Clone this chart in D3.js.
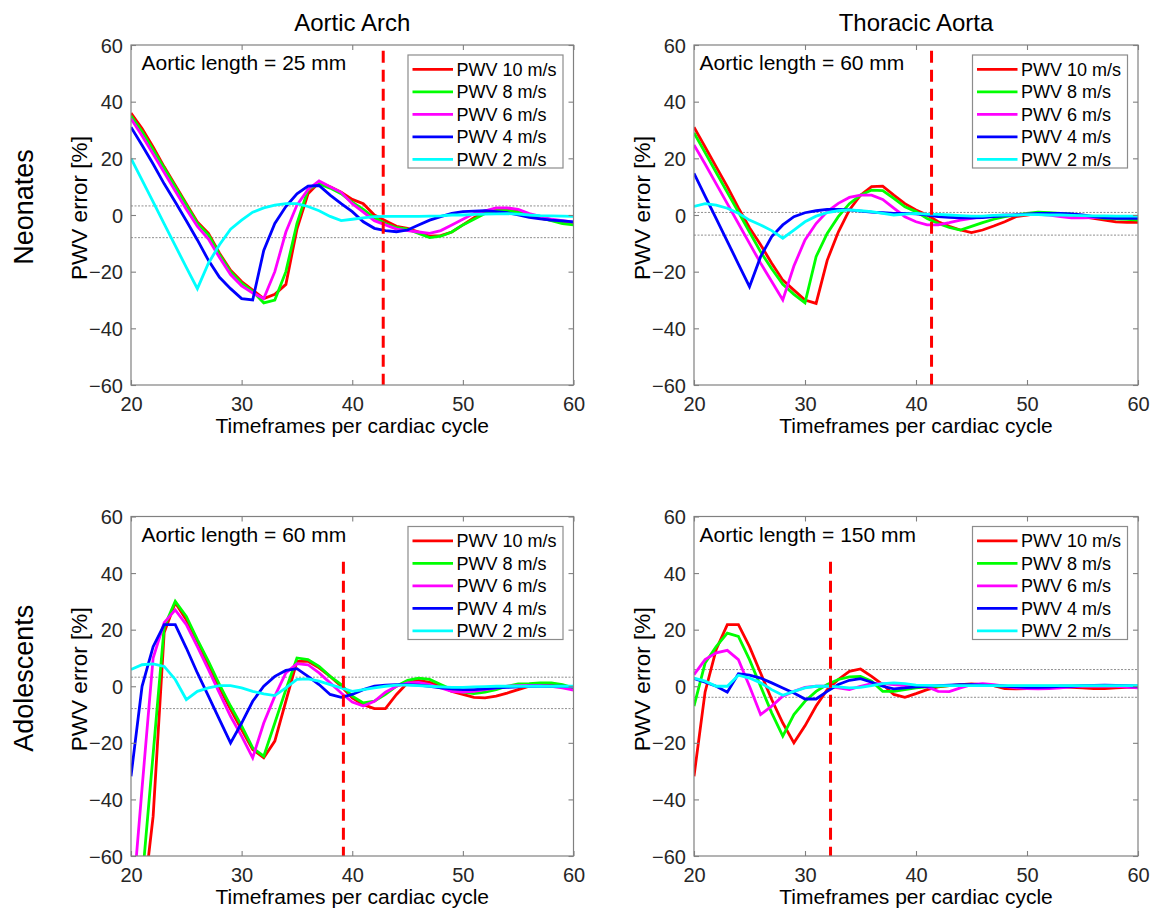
<!DOCTYPE html>
<html>
<head>
<meta charset="utf-8">
<script src="https://cdn.jsdelivr.net/npm/d3@7"></script>
<style>
  html, body { margin: 0; padding: 0; background: #fff; }
  svg { display: block; }
  text { font-family: "Liberation Sans", Arial, Helvetica, sans-serif; }
</style>
</head>
<body>
<svg id="chart" width="1153" height="917"></svg>
<script>
// ---------------- DATA ----------------
const timeframes = d3.range(20, 61); // 20..60
const seriesLabels = ["PWV 10 m/s", "PWV 8 m/s", "PWV 6 m/s", "PWV 4 m/s", "PWV 2 m/s"];
const columnTitles = ["Aortic Arch", "Thoracic Aorta"];
const rowTitles = ["Neonates", "Adolescents"];
const aorticLengths = [25, 60, 60, 150];          // mm, per panel
const cutoffTimeframes = [42.8, 41.4, 39.2, 32.3]; // red dashed vertical
const bandUpper = [3.2, 0.9, 3.2, 5.9];
const bandLower = [-8.0, -7.1, -7.9, -3.9];
const xTicks = [20, 30, 40, 50, 60];
const yTicks = [-60, -40, -20, 0, 20, 40, 60];

// Aortic Arch – Neonates (rows: 10, 8, 6, 4, 2 m/s; columns: timeframes 20..60)
const aaNeonates = [
  [36, 30.5, 24, 17, 10.5, 4, -2.5, -6.5, -13.5, -19.5, -23.5, -26.5, -29.5, -28, -24.5, -5, 7.5, 11.5, 10, 8, 5.5,
   4, 0, -2, -4, -4.7, -6, -7.5, -7.3, -6, -3.5, -1, 1, 2.3, 2.3, 1.2, 0, -1.2, -1.8, -2.4, -3],
  [35, 29.5, 23, 16.5, 10, 3.5, -3, -7, -14, -20, -24, -27, -31, -30, -20, -3, 9, 11, 9.5, 7.5, 4.5,
   2, -1, -3, -4.5, -5, -6.5, -8, -7.5, -6, -3.5, -1.5, 0.5, 1.5, 1.5, 1, 0, -1, -2, -3, -3.5],
  [34, 28, 21.5, 15, 8.5, 2, -4, -8.5, -15, -21, -25, -27.5, -29.5, -20, -6, 3.5, 9, 12, 10, 8, 4,
   1, -2, -3.5, -5, -5.5, -6, -6.5, -5.5, -3.5, -1.5, 0.5, 1.5, 2.5, 2.5, 2, 0.5, -0.5, -1.5, -2, -2.5],
  [31, 24.6, 18, 11, 4.6, -2, -8.8, -16, -22, -26, -29.5, -30, -12.5, -3, 3, 7.5, 10.2, 10.4, 7, 4, 1.2,
   -2.4, -4.7, -5.5, -5.9, -5.3, -3.5, -1.8, -0.6, 0.6, 1.2, 1.4, 1.5, 1.2, 0.8, 0, -0.8, -1.4, -1.8, -2.1, -2.4],
  [20, 12.3, 4.6, -3.1, -10.8, -18.5, -26, -17, -10.5, -5, -1.8, 1, 2.5, 3.5, 4, 4, 3, 1.5, -0.5, -2, -1.5,
   -1, -0.6, -0.5, -0.5, -0.5, -0.5, -0.4, -0.3, 0, 0, 0.2, 0.3, 0.4, 0.5, 0.3, 0, -0.2, -0.3, -0.4, -0.5]
];

// Thoracic Aorta – Neonates
const taNeonates = [
  [31, 24, 17, 10, 2.5, -4.5, -10.5, -17, -23, -26.5, -30, -31.2, -16, -6, 1.8, 7, 10, 10.2, 7, 4, 1.8,
   0, -2.4, -4, -5.3, -6.2, -5.3, -3.9, -2.4, -0.6, 0, 0.6, 0.6, 0.3, 0, -0.6, -1.2, -1.8, -2.4, -2.6, -2.6],
  [29, 22, 15, 8, 1, -6, -13, -19, -24.5, -28, -31, -14.7, -6.5, -0.6, 4, 7, 8.8, 8.6, 5.9, 2.9, 1.2,
   -1.2, -3, -4.4, -5.3, -4, -2.7, -1.5, -0.6, 0, 0.6, 1, 0.8, 0.6, 0.3, -0.2, -0.8, -1.2, -1.4, -1.5, -1.8],
  [24.7, 18, 11, 4, -3, -10, -17, -23.5, -30, -18, -8.8, -3, 1.2, 4.1, 6.2, 7, 7, 5.5, 2.4, -0.6, -2.4,
   -3.5, -3.5, -2.7, -1.8, -1.2, -0.6, -0.3, 0, 0.1, 0.3, 0.2, 0, -0.6, -1, -1, -0.9, -0.7, -0.6, -0.6, -0.6],
  [14.7, 6.7, -1.3, -9.3, -17.3, -25.3, -14.7, -7.6, -3.5, -0.6, 0.8, 1.5, 2, 2, 1.8, 1.4, 1, 0.8, 0.6, 0.6, 0.4,
   0, -0.6, -0.8, -1, -1, -0.9, -0.6, -0.3, 0, 0.3, 0.6, 0.6, 0.6, 0.4, 0, -0.6, -1, -1.2, -1.2, -1.2],
  [3, 4, 3.5, 2.4, 0.6, -1.8, -3.5, -5.5, -8.2, -5.3, -2.4, -0.4, 0.8, 1.5, 1.8, 1.5, 1.2, 0.6, 0, 0.3, 0.6,
   0.3, 0.2, 0, -0.2, -0.4, -0.4, -0.1, 0, 0, 0.1, 0.1, 0, 0, -0.1, -0.2, -0.3, -0.3, -0.4, -0.4, -0.4]
];

// Aortic Arch – Adolescents (values below -60 are clipped by the axes)
const aaAdolescents = [
  [-110, -80, -46, 19, 29.5, 23.5, 15.9, 7.6, -0.6, -8.2, -15.3, -22.4, -25.3, -19.4, -5.3, 8.8, 8.8, 6.5, 3.5, 0, -4.1,
   -6.5, -7.9, -7.9, -2.9, 1.2, 2.1, 1.4, 0, -1.8, -2.9, -3.9, -4.1, -3.5, -2.4, -1.2, 0, 0.2, 0.6, 0, -0.6],
  [-100, -69, -24, 21, 30, 24.7, 16.5, 8.8, 0.6, -7, -14, -21.8, -24.7, -13, -1.2, 10, 9.4, 7, 3.5, 0.6, -3.5,
   -5.9, -5.3, -2.9, 0, 2.1, 2.9, 2.4, 0.6, -1.2, -2.1, -2.6, -2.1, -1.2, 0, 0.8, 0.9, 1.2, 1.2, 0.6, -0.6],
  [-83, -36, 10, 22.5, 27, 21.8, 14, 5.9, -2.4, -10.6, -17.6, -25.3, -13, -3.5, 4.7, 8, 7.6, 4.7, 1.2, -2.4, -5.6,
   -7, -5.3, -2.1, 0, 1.2, 1.4, 0.6, -0.6, -1.8, -2.1, -1.8, -1.2, -0.6, 0, 0.2, 0.3, 0.2, 0, -0.6, -1.4],
  [-31.8, 0, 14, 21.8, 21.8, 13.5, 4.7, -3.5, -11.8, -20, -13, -5.3, 0, 3.5, 5.6, 6.2, 3.5, 0.6, -2.9, -3.9, -2.9,
   -1.2, 0, 0.4, 0.6, 0.6, 0.4, 0, -0.6, -0.9, -1.2, -1.2, -0.9, -0.6, -0.4, -0.2, 0, 0, 0, 0, -0.2],
  [5.9, 7.6, 7.9, 7, 2.4, -4.7, -1.8, -0.6, 0.2, 0.2, -0.6, -1.8, -2.7, -3.3, -0.6, 2.4, 2.6, 1.8, 0.6, -0.6, -1.8,
   -1.2, -0.6, 0, 0.4, 0.4, 0.2, 0, -0.2, -0.4, -0.4, -0.2, -0.1, 0, 0, 0, 0, 0, 0, 0, 0]
];

// Thoracic Aorta – Adolescents
const taAdolescents = [
  [-31.8, -2, 13, 21.8, 21.8, 14, 4.7, -4.7, -13, -20, -14, -7, -1.2, 2.4, 5.3, 6.1, 3.5, 0.6, -2.9, -3.9, -2.6,
   -1.2, -0.2, 0.2, 0.6, 0.8, 0.6, 0.2, -0.8, -0.9, -0.8, -0.6, -0.4, -0.2, -0.4, -0.6, -0.8, -0.8, -0.6, -0.4, -0.4],
  [-7, 8.2, 14, 18.8, 17.6, 9.4, 0, -9.4, -17.6, -10, -5.3, -1.8, 0.6, 2.4, 3.3, 3.5, 1.8, -1.8, -1.8, -1.2, -0.6,
   -0.2, 0, 0.2, 0.4, 0.4, 0.3, 0.2, 0, 0, 0, 0, 0, 0, 0, 0, 0, 0, 0, 0, 0],
  [4.1, 9.4, 11.8, 12.7, 9.4, 0, -10, -7, -3.5, -1.8, -0.4, 0, 0, -0.6, -1.2, 0, 0.9, 0.9, 0.6, 0.2, 0,
   -0.2, -1.8, -1.9, -0.6, 0.6, 0.9, 0.6, 0, -0.6, -0.8, -0.9, -0.8, -0.6, -0.2, 0, 0, 0, 0, -0.3, -0.6],
  [2.7, 1.4, 0, -2.1, 4.4, 3.9, 2.9, 1.2, -0.6, -2.4, -4.5, -4.5, -1.8, 0.6, 2.1, 2.7, 1.4, 0, -0.9, -0.6, -0.2,
   0, 0.2, 0.4, 0.6, 0.6, 0.4, 0.2, 0, -0.2, -0.4, -0.4, -0.3, 0, 0, 0.2, 0.3, 0.4, 0.3, 0.2, 0],
  [2.9, 1.8, 0, 0, 3.9, 2.9, 1.2, -1.2, -3.2, -1.8, -0.6, 0, 0, -0.2, -0.6, -0.4, 0.2, 0.9, 1.2, 0.9, 0.4,
   0.3, 0.2, 0.2, 0.2, 0.2, 0.2, 0.2, 0.2, 0.2, 0.2, 0.2, 0.2, 0.2, 0.2, 0.2, 0.2, 0.2, 0.2, 0.2, 0.2]
];

// ---------------- STYLE / LAYOUT ----------------
const seriesColors = ["#ff0000", "#00ff00", "#ff00ff", "#0000ff", "#00ffff"];
const panelData = [aaNeonates, taNeonates, aaAdolescents, taAdolescents];
const colX = [[131, 573.5], [694, 1138]];
const rowY = [[45, 385], [516.5, 856]];
const annotDx = [10.5, 5.5];
const FONT = '"Liberation Sans", Arial, Helvetica, sans-serif';

const svg = d3.select("#chart");
const defs = svg.append("defs");

panelData.forEach((data, p) => {
  const col = p % 2, row = Math.floor(p / 2);
  const [x0, x1] = colX[col];
  const [y0, y1] = rowY[row];
  const x = d3.scaleLinear().domain([20, 60]).range([x0, x1]);
  const y = d3.scaleLinear().domain([-60, 60]).range([y1, y0]);
  const g = svg.append("g");

  const clipId = "clip" + p;
  defs.append("clipPath").attr("id", clipId)
    .append("rect").attr("x", x0).attr("y", y0).attr("width", x1 - x0).attr("height", y1 - y0);

  g.append("rect").attr("x", x0).attr("y", y0).attr("width", x1 - x0).attr("height", y1 - y0)
    .attr("fill", "#fff");

  // gray dotted band lines
  [bandUpper[p], bandLower[p]].forEach(v => {
    g.append("line")
      .attr("x1", x0).attr("x2", x1).attr("y1", y(v)).attr("y2", y(v))
      .attr("stroke", "#8f8f8f").attr("stroke-width", 1).attr("stroke-dasharray", "2,1.5");
  });

  // series lines
  const line = d3.line().x((d, i) => x(timeframes[i])).y(d => y(d));
  const lg = g.append("g").attr("clip-path", `url(#${clipId})`);
  data.forEach((vals, s) => {
    lg.append("path").datum(vals)
      .attr("d", line)
      .attr("fill", "none")
      .attr("stroke", seriesColors[s])
      .attr("stroke-width", 2.8)
      .attr("stroke-linejoin", "miter");
  });

  // red dashed cutoff
  lg.append("line")
    .attr("x1", x(cutoffTimeframes[p])).attr("x2", x(cutoffTimeframes[p]))
    .attr("y1", y(row === 0 ? 58 : 44)).attr("y2", y(-60))
    .attr("stroke", "#ff0000").attr("stroke-width", 3).attr("stroke-dasharray", "12,7");

  // axes box with inward ticks on all sides
  const axisColor = "#808080";
  const tickLen = 5;
  const axG = g.append("g");
  axG.append("rect").attr("x", x0).attr("y", y0).attr("width", x1 - x0).attr("height", y1 - y0)
    .attr("fill", "none").attr("stroke", axisColor).attr("stroke-width", 1.2);

  const xAxisB = d3.axisBottom(x).tickValues(xTicks).tickSizeInner(-tickLen).tickSizeOuter(0).tickPadding(14);
  const xAxisT = d3.axisTop(x).tickValues(xTicks).tickSizeInner(-tickLen).tickSizeOuter(0).tickFormat("");
  const yAxisL = d3.axisLeft(y).tickValues(yTicks).tickSizeInner(-tickLen).tickSizeOuter(0).tickPadding(14);
  const yAxisR = d3.axisRight(y).tickValues(yTicks).tickSizeInner(-tickLen).tickSizeOuter(0).tickFormat("");

  function styleAxis(sel) {
    sel.select(".domain").remove();
    sel.selectAll(".tick line").attr("stroke", axisColor).attr("stroke-width", 1.1);
    sel.selectAll(".tick text").attr("fill", "#262626").style("font-size", "20px").style("font-family", FONT);
  }
  axG.append("g").attr("transform", `translate(0,${y1})`).call(xAxisB).call(styleAxis)
    .selectAll(".tick text").attr("dy", null).attr("y", 26);
  axG.append("g").attr("transform", `translate(0,${y0})`).call(xAxisT).call(styleAxis);
  axG.append("g").attr("transform", `translate(${x0},0)`).call(yAxisL).call(styleAxis)
    .selectAll(".tick text").attr("dy", "0.35em").attr("x", -8);
  axG.append("g").attr("transform", `translate(${x1},0)`).call(yAxisR).call(styleAxis);

  // axis labels
  g.append("text")
    .attr("x", (x0 + x1) / 2).attr("y", y1 + 48)
    .attr("text-anchor", "middle").style("font-size", "21px").attr("fill", "#000")
    .text("Timeframes per cardiac cycle");
  g.append("text")
    .attr("transform", `translate(${x0 - 44},${(y0 + y1) / 2 - 7}) rotate(-90)`)
    .attr("text-anchor", "middle").style("font-size", "22.5px").attr("fill", "#000")
    .text("PWV error [%]");

  // annotation
  g.append("text")
    .attr("x", x0 + annotDx[col]).attr("y", y0 + 25)
    .style("font-size", "21px").attr("fill", "#000")
    .text(`Aortic length = ${aorticLengths[p]} mm`);

  // legend
  const lw = 155, lh = 113;
  const lx = x1 - 10.5 - lw, ly = y0 + 10;
  const leg = g.append("g");
  leg.append("rect").attr("x", lx).attr("y", ly).attr("width", lw).attr("height", lh)
    .attr("fill", "#fff").attr("stroke", "#8c8c8c").attr("stroke-width", 1.2);
  seriesLabels.forEach((lab, s) => {
    const cy = ly + 14.3 + s * 22.5;
    leg.append("line").attr("x1", lx + 4.5).attr("x2", lx + 45).attr("y1", cy).attr("y2", cy)
      .attr("stroke", seriesColors[s]).attr("stroke-width", 2.8);
    leg.append("text").attr("x", lx + 48.5).attr("y", cy + 6.5)
      .style("font-size", "18px").attr("fill", "#000").text(lab);
  });
});

// column titles
columnTitles.forEach((t, c) => {
  svg.append("text")
    .attr("x", (colX[c][0] + colX[c][1]) / 2).attr("y", 31)
    .attr("text-anchor", "middle").style("font-size", "24px").attr("fill", "#000")
    .text(t);
});
// row titles
rowTitles.forEach((t, r) => {
  svg.append("text")
    .attr("transform", `translate(33,${(rowY[r][0] + rowY[r][1]) / 2 - 8}) rotate(-90)`)
    .attr("text-anchor", "middle").style("font-size", "27px").attr("fill", "#000")
    .text(t);
});
</script>
</body>
</html>
